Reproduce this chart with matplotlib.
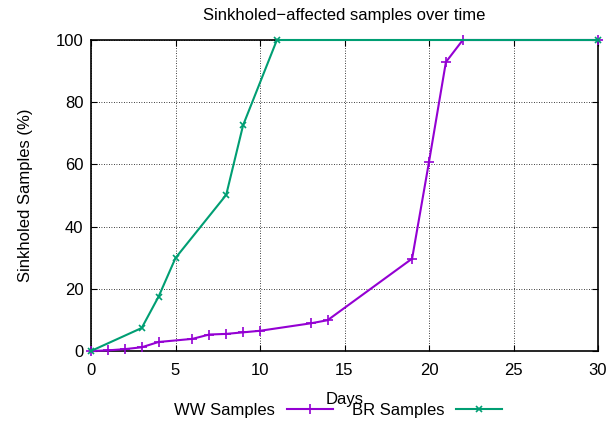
import matplotlib
matplotlib.use('Agg')
import matplotlib.pyplot as plt

plt.rcParams['font.family'] = ['Liberation Sans', 'DejaVu Sans']
plt.rcParams['font.size'] = 12

# WW samples
ww_days = [0, 1, 2, 3, 4, 6, 7, 8, 9, 10, 13, 14, 19, 20, 21, 22, 30]
ww_pct = [0, 0.2, 0.6, 1.2, 2.9, 3.9, 5.3, 5.5, 6.0, 6.5, 8.9, 9.9, 29.7, 60.8, 92.9, 100, 100]

# BR samples
br_days = [0, 3, 4, 5, 8, 9, 11, 30]
br_pct = [0, 7.4, 17.5, 29.9, 50.2, 72.6, 100, 100]

fig = plt.figure(figsize=(6.08, 4.21), dpi=100)
ax = fig.add_axes([91/608, 1-351/421, (598-91)/608, (351-40)/421])

ax.plot(ww_days, ww_pct, color='#9400D3', lw=1.5, marker='+', ms=7, mew=1.2,
        label='WW Samples', clip_on=False, zorder=3)
ax.plot(br_days, br_pct, color='#009E73', lw=1.5, marker='x', ms=5, mew=1.2,
        label='BR Samples', clip_on=False, zorder=3)

ax.set_xlim(0, 30)
ax.set_ylim(0, 100)
ax.set_xticks(range(0, 31, 5))
ax.set_yticks(range(0, 101, 20))
ax.tick_params(direction='in', length=4, width=0.8, top=True, right=True)
ax.tick_params(axis='x', pad=8.5)
ax.tick_params(axis='y', pad=5.5)
ax.grid(True, color='black', linestyle=(0, (1, 2)), linewidth=0.6)
for s in ax.spines.values():
    s.set_linewidth(1.2)

ax.set_title('Sinkholed\u2212affected samples over time', fontsize=12, pad=14.5)
ax.set_xlabel('Days', labelpad=10)
ax.set_ylabel('Sinkholed Samples (%)', labelpad=16)

fig.legend(loc='center', bbox_to_anchor=(338/608, 1-410/421), ncol=2,
           markerfirst=False, frameon=False, handlelength=2.76,
           columnspacing=1.14, handletextpad=0.72, borderpad=0)

fig.savefig('out.png', dpi=100)
